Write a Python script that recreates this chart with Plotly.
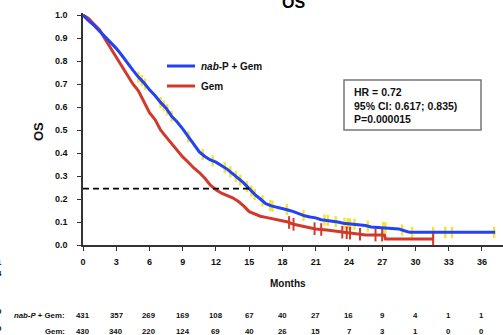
import plotly.graph_objects as go

# ---------------- data ----------------
blue_t = [0, 0.5, 1.0, 1.5, 2.0, 2.5, 3.0, 3.5, 4.0, 4.5, 5.0, 5.5, 6.0, 6.5, 7.0, 7.5, 8.0, 8.5,
          9.0, 9.5, 10.0, 10.5, 11.0, 11.5, 12.0, 12.5, 13.0, 13.5, 14.0, 14.5, 15.0, 15.5, 16.0,
          16.5, 17.0, 17.5, 18.0, 18.5, 19.0, 19.5, 20.0, 20.5, 21.0, 21.5, 22.5, 23.0, 23.5, 24.0,
          24.5, 25.0, 25.5, 26.0, 28.0, 28.5, 29.0, 29.5, 37.2]
blue_s = [1.0, 0.975, 0.955, 0.93, 0.905, 0.88, 0.855, 0.825, 0.79, 0.76, 0.73, 0.705, 0.675, 0.65,
          0.62, 0.595, 0.56, 0.535, 0.505, 0.47, 0.44, 0.405, 0.385, 0.37, 0.36, 0.345, 0.33, 0.31,
          0.29, 0.27, 0.245, 0.22, 0.20, 0.18, 0.17, 0.165, 0.16, 0.152, 0.145, 0.135, 0.127, 0.122,
          0.118, 0.11, 0.105, 0.10, 0.095, 0.092, 0.09, 0.087, 0.085, 0.078, 0.074, 0.07, 0.062,
          0.055, 0.055]

red_t = [0, 0.5, 1.0, 1.5, 2.0, 2.5, 3.0, 3.5, 4.0, 4.5, 5.0, 5.5, 6.0, 6.5, 7.0, 7.5, 8.0, 8.5,
         9.0, 9.5, 10.0, 10.5, 11.0, 11.5, 12.0, 12.5, 13.0, 13.5, 14.0, 14.5, 15.0, 15.5, 16.0,
         16.5, 17.0, 17.5, 18.0, 18.5, 19.0, 19.5, 20.0, 21.0, 22.0, 23.0, 24.0, 25.0, 25.5, 27.2,
         27.3, 31.6]
red_s = [1.0, 0.985, 0.96, 0.935, 0.895, 0.855, 0.82, 0.78, 0.74, 0.70, 0.67, 0.62, 0.575, 0.545,
         0.50, 0.47, 0.44, 0.41, 0.383, 0.36, 0.335, 0.315, 0.29, 0.26, 0.24, 0.225, 0.215, 0.205,
         0.19, 0.17, 0.145, 0.135, 0.125, 0.12, 0.115, 0.11, 0.105, 0.10, 0.09, 0.085, 0.08, 0.07,
         0.065, 0.058, 0.052, 0.047, 0.043, 0.043, 0.026, 0.026]

blue_cens = [5.0, 5.3, 5.6, 7.0, 7.3, 7.6, 8.0, 9.5, 10.8, 11.7, 12.8, 13.3, 13.8, 14.2, 14.8, 15.2,
             15.5, 16.2, 16.9, 17.1, 18.4, 19.9, 21.8, 22.1, 22.8, 23.6, 23.9, 24.1, 24.5, 25.7,
             27.1, 27.3, 28.8, 29.7, 31.6, 32.7, 33.3, 37.1]
red_cens = [18.6, 19.0, 20.9, 21.5, 23.4, 23.8, 24.1, 25.0, 26.4, 27.0, 31.6]

median_level = 0.245
median_end = 15.0

risk_months = [0, 3, 6, 9, 12, 15, 18, 21, 24, 27, 30, 33, 36]
risk_nab = [431, 357, 269, 169, 108, 67, 40, 27, 16, 9, 4, 1, 1]
risk_gem = [430, 340, 220, 124, 69, 40, 26, 15, 7, 3, 1, 0, 0]

y_ticks = [0.0, 0.1, 0.2, 0.3, 0.4, 0.5, 0.6, 0.7, 0.8, 0.9, 1.0]
x_ticks = [0, 3, 6, 9, 12, 15, 18, 21, 24, 27, 30, 33, 36]

stats_lines = ["HR = 0.72", "95% CI: 0.617; 0.835)", "P=0.000015"]

BLUE = "#2243F5"
RED = "#D2392A"
YELLOW = "#F7E23A"
FONT = "Liberation Sans"


def surv_at(ts, ss, t):
    v = ss[0]
    for ti, si in zip(ts, ss):
        if ti <= t:
            v = si
    return v


def interp(ts, ss, t):
    for i in range(len(ts) - 1):
        if ts[i] <= t <= ts[i + 1]:
            f = (t - ts[i]) / (ts[i + 1] - ts[i])
            return ss[i] + f * (ss[i + 1] - ss[i])
    return ss[-1]


# ---------------- geometry (pixels) ----------------
W, H = 503, 335
L, R, T, B = 83, 0, 13, 90
PW, PH = W - L - R, H - T - B


def px(x):
    return (x - L) / PW


def py(y):
    return (H - B - y) / PH


fig = go.Figure()

# censor marks (drawn under the curves)
fig.add_trace(go.Scatter(x=blue_cens, y=[interp(blue_t, blue_s, t) for t in blue_cens],
                         mode="markers", showlegend=False, hoverinfo="skip",
                         marker=dict(symbol="line-ns", size=8, line=dict(color=YELLOW, width=2.5))))
fig.add_trace(go.Scatter(x=red_cens, y=[interp(red_t, red_s, t) for t in red_cens],
                         mode="markers", showlegend=False, hoverinfo="skip",
                         marker=dict(symbol="line-ns", size=9, line=dict(color=RED, width=2))))

fig.add_trace(go.Scatter(x=red_t, y=red_s, mode="lines", line=dict(color=RED, width=3),
                         showlegend=False, hoverinfo="skip"))
fig.add_trace(go.Scatter(x=blue_t, y=blue_s, mode="lines", line=dict(color=BLUE, width=3),
                         showlegend=False, hoverinfo="skip"))

# median dashed line
fig.add_trace(go.Scatter(x=[0, median_end], y=[median_level, median_level], mode="lines",
                         line=dict(color="black", width=1.6, dash="6px,4px"),
                         showlegend=False, hoverinfo="skip"))

ann = []
shapes = []

# title
ann.append(dict(x=px(293), y=py(3), xref="paper", yref="paper", text="<b>OS</b>", showarrow=False,
                font=dict(family=FONT, size=16, color="black"), xanchor="center", yanchor="middle"))

# legend
shapes.append(dict(type="line", xref="paper", yref="paper", x0=px(167), x1=px(195), y0=py(66), y1=py(66),
                   line=dict(color=BLUE, width=3)))
shapes.append(dict(type="line", xref="paper", yref="paper", x0=px(167), x1=px(195), y0=py(86), y1=py(86),
                   line=dict(color=RED, width=3)))
ann.append(dict(x=px(199), y=py(66), xref="paper", yref="paper", text="<b><i>nab</i>-P + Gem</b>",
                showarrow=False, font=dict(family=FONT, size=10, color="#111"),
                xanchor="left", yanchor="middle"))
ann.append(dict(x=px(199), y=py(86), xref="paper", yref="paper", text="<b>Gem</b>",
                showarrow=False, font=dict(family=FONT, size=10, color="#111"),
                xanchor="left", yanchor="middle"))

# stats box
shapes.append(dict(type="rect", xref="paper", yref="paper", x0=px(344), x1=px(481), y0=py(130), y1=py(80),
                   line=dict(color="#777777", width=1.5), fillcolor="white"))
ann.append(dict(x=px(352), y=py(105), xref="paper", yref="paper",
                text="<br>".join("<b>%s</b>" % s for s in stats_lines), showarrow=False, align="left",
                font=dict(family=FONT, size=10.5, color="#111"), xanchor="left", yanchor="middle"))

# x title
ann.append(dict(x=px(288), y=py(283), xref="paper", yref="paper", text="<b>Months</b>", showarrow=False,
                font=dict(family=FONT, size=10, color="#111"), xanchor="center", yanchor="middle"))
# y title
ann.append(dict(x=px(38), y=py(132), xref="paper", yref="paper", text="<b>OS</b>", showarrow=False,
                textangle=-90, font=dict(family=FONT, size=13, color="#111"),
                xanchor="center", yanchor="middle"))

# numbers at risk
ann.append(dict(x=px(67), y=py(316), xref="paper", yref="paper", text="<b><i>nab-P</i> + Gem:</b>",
                showarrow=False, font=dict(family=FONT, size=7.8, color="#111"),
                xanchor="right", yanchor="middle"))
ann.append(dict(x=px(67), y=py(331), xref="paper", yref="paper", text="<b>Gem:</b>",
                showarrow=False, font=dict(family=FONT, size=7.8, color="#111"),
                xanchor="right", yanchor="middle"))
for m, a, g in zip(risk_months, risk_nab, risk_gem):
    ann.append(dict(x=m, y=py(316), xref="x", yref="paper", text="<b>%d</b>" % a, showarrow=False,
                    font=dict(family=FONT, size=7.8, color="#111"), xanchor="center", yanchor="middle"))
    ann.append(dict(x=m, y=py(331), xref="x", yref="paper", text="<b>%d</b>" % g, showarrow=False,
                    font=dict(family=FONT, size=7.8, color="#111"), xanchor="center", yanchor="middle"))

# clipped fragments at the left edge
for frag, yy in [("1", 262), ("4", 273), ("0", 311), ("0", 328)]:
    ann.append(dict(x=px(4), y=py(yy), xref="paper", yref="paper", text="<b>%s</b>" % frag,
                    showarrow=False, font=dict(family=FONT, size=8, color="#111"),
                    xanchor="right", yanchor="middle"))

fig.update_layout(
    width=W, height=H, margin=dict(l=L, r=R, t=T, b=B),
    paper_bgcolor="white", plot_bgcolor="white",
    showlegend=False, annotations=ann, shapes=shapes,
    xaxis=dict(range=[0, PW / 11.08], tickvals=x_ticks, ticktext=["<b>%d</b>" % v for v in x_ticks],
               showgrid=False, zeroline=False, showline=True, linecolor="#333", linewidth=1.5,
               ticks="outside", ticklen=4, tickwidth=1.3, tickcolor="#333", ticklabelstandoff=3,
               tickfont=dict(family=FONT, size=9, color="#111")),
    yaxis=dict(range=[0, PH / 230.0], tickvals=y_ticks, ticktext=["<b>%.1f</b>" % v for v in y_ticks],
               showgrid=False, zeroline=False, showline=True, linecolor="#333", linewidth=1.5,
               ticks="outside", ticklen=4, tickwidth=1.3, tickcolor="#333", ticklabelstandoff=8,
               tickfont=dict(family=FONT, size=9, color="#111")),
)

fig.write_html("out.html")
